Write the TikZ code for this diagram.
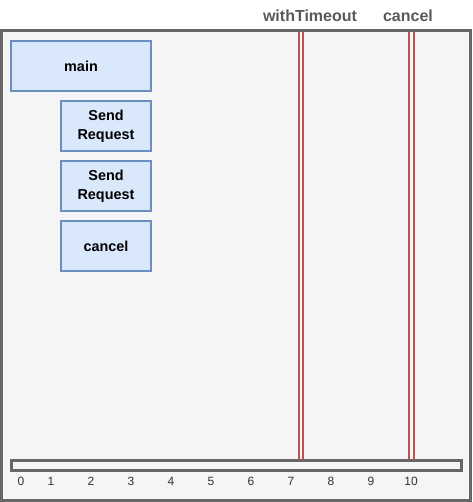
\documentclass[tikz,border=0pt]{standalone}
\usepackage{fontspec}
\setmainfont{Liberation Sans}
\definecolor{frame}{HTML}{666666}
\definecolor{bg}{HTML}{F5F5F5}
\definecolor{boxfill}{HTML}{DAE8FC}
\definecolor{boxline}{HTML}{6C8EBF}
\definecolor{redl}{HTML}{B85450}
\definecolor{numc}{HTML}{333333}
\definecolor{labc}{HTML}{595959}
\begin{document}
\begin{tikzpicture}[x=0.75pt,y=-0.75pt,
  task/.style={draw=boxline,fill=boxfill,line width=2.6pt*0.75,inner sep=0pt,outer sep=0pt,align=center,font=\fontsize{10.8pt}{14pt}\selectfont\bfseries},
  num/.style={inner sep=0pt,text=numc,font=\fontsize{9pt}{10pt}\selectfont},
  lab/.style={inner sep=0pt,text=labc,font=\fontsize{12pt}{14pt}\selectfont\bfseries},
  mark line/.style={draw=redl,line width=1.5pt}]
\useasboundingbox (0,0) rectangle (473,502);
% frame
\draw[frame,fill=bg,line width=2.25pt] (1.5,31) rectangle (470.5,500);
% tasks
\node[task,minimum width=105pt,minimum height=37.5pt,anchor=north west] (main) at (11,41) {main};
\node[task,minimum width=67.5pt,minimum height=37.5pt,anchor=north west] (sr1) at (61,101) {Send\\Request};
\node[task,minimum width=67.5pt,minimum height=37.5pt,anchor=north west] (sr2) at (61,161) {Send\\Request};
\node[task,minimum width=67.5pt,minimum height=37.5pt,anchor=north west] (cn) at (61,221) {cancel};
% timeline bar
\draw[frame,fill=bg,line width=1.9pt] (11.5,460.5) rectangle (461.5,470.5);
% numbers
\foreach \n/\x in {0/21,1/51,2/91,3/131,4/171,5/211,6/251,7/291,8/331,9/371,10/411}
  \node[num] (n\n) at (\x,481) {\n};
% red marker lines
\coordinate (wt1a) at (299.3,32.5); \coordinate (wt1b) at (299.3,459.5);
\coordinate (wt2a) at (303.3,32.5); \coordinate (wt2b) at (303.3,459.5);
\coordinate (c1a) at (409.3,32.5); \coordinate (c1b) at (409.3,459.5);
\coordinate (c2a) at (413.5,32.5); \coordinate (c2b) at (413.5,459.5);
\draw[mark line] (wt1a) -- (wt1b);
\draw[mark line] (wt2a) -- (wt2b);
\draw[mark line] (c1a) -- (c1b);
\draw[mark line] (c2a) -- (c2b);
% labels
\node[lab] (lwt) at (310,16) {withTimeout};
\node[lab] (lc) at (408,16) {cancel};
\end{tikzpicture}
\end{document}
